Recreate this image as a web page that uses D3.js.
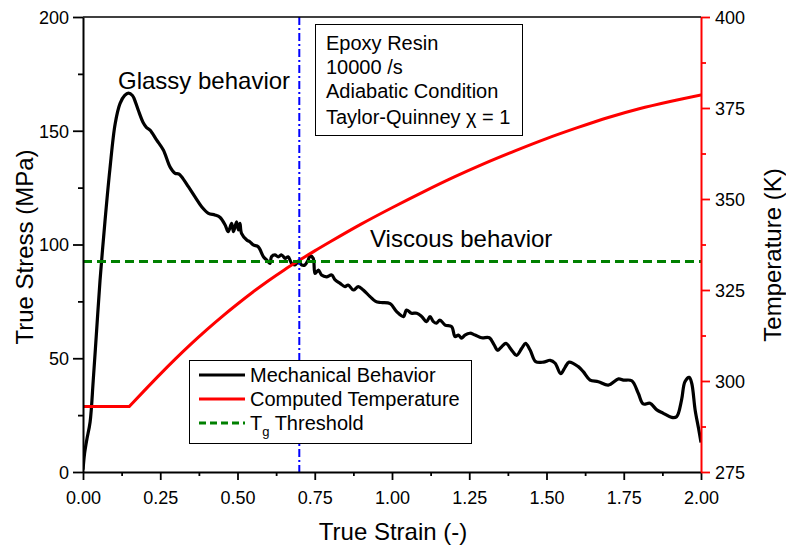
<!DOCTYPE html>
<html>
<head>
<meta charset="utf-8">
<script src="https://cdn.jsdelivr.net/npm/d3@7"></script>
<style>
  html, body { margin: 0; padding: 0; background: #fff; }
  svg { display: block; font-family: "Liberation Sans", Arial, sans-serif; }
</style>
</head>
<body>
<svg id="chart" width="786" height="549"></svg>
<script>
// ---- data ----
const mechStrain = [0.000,0.005,0.012,0.023,0.033,0.044,0.055,0.071,0.087,0.104,0.120,0.135,0.147,0.160,0.170,0.179,0.195,0.205,0.217,0.238,0.260,0.282,0.298,0.310,0.319,0.341,0.362,0.384,0.406,0.427,0.443,0.460,0.470,0.481,0.487,0.497,0.503,0.508,0.513,0.530,0.540,0.551,0.567,0.584,0.594,0.605,0.610,0.621,0.632,0.643,0.654,0.664,0.675,0.686,0.697,0.708,0.718,0.728,0.735,0.745,0.751,0.762,0.772,0.788,0.805,0.816,0.832,0.848,0.858,0.875,0.891,0.907,0.929,0.947,0.965,0.994,1.015,1.037,1.047,1.063,1.080,1.095,1.112,1.123,1.134,1.144,1.155,1.172,1.193,1.204,1.215,1.225,1.236,1.252,1.269,1.290,1.315,1.330,1.342,1.355,1.369,1.387,1.403,1.420,1.432,1.447,1.465,1.490,1.512,1.528,1.546,1.560,1.573,1.603,1.619,1.641,1.668,1.700,1.733,1.749,1.776,1.797,1.813,1.835,1.857,1.878,1.905,1.921,1.937,1.948,1.962,1.970,1.981,1.992,2.000];
const mechStress = [1,8,14,22,40,62,84,110,133,153,162,165.5,166.5,165.5,162.5,159,153.5,151.5,150.3,146,141.5,134,131.3,131,129.8,125.4,121,116.6,113.7,113,112,108.6,105.6,109.3,105.6,110,106.4,109.3,104.9,102,101.2,99.8,99,94.6,93.2,91.7,94.6,95.4,94.6,95.4,93.9,94.6,91.7,91,92.4,91,91,93,95,93.9,87.3,88.8,86.6,85.8,86.6,84.4,82.9,81.5,82.2,80,81.5,80,77.1,75,74.5,74,70.5,68.3,71.2,69.8,69.8,68.5,66.1,68.3,66.1,65.4,66.8,64.6,63.9,59.5,60.2,58.8,60.2,61,60.2,59,59,56,53.5,55.1,56.5,53.6,51.3,54.4,56.5,53.6,48.5,48.3,49.1,47.8,43.2,46,48.3,46.3,44.1,40.4,39.7,38.2,40.9,40.4,40.1,34.6,29.9,30.2,27.3,25.8,24,24.3,31.6,39.7,41.6,39,27.3,19.2,13];

const tempStrain = [0,0.15,0.2,0.25,0.3,0.35,0.4,0.45,0.5,0.55,0.6,0.65,0.7,0.75,0.8,0.9,1.0,1.1,1.2,1.3,1.4,1.5,1.6,1.7,1.8,1.9,2.0];
const tempK      = [293,293,297.5,301.9,306.15,310.2,314.05,317.7,321.15,324.45,327.55,330.45,333.15,335.75,338.25,343.1,347.6,351.9,356.0,359.8,363.3,366.6,369.6,372.4,374.8,376.8,378.6];

const tgStress = 92.5;      // Tg threshold (left axis units)
const tgStrain = 0.70;      // transition strain

const xTicks = [0,0.25,0.5,0.75,1.0,1.25,1.5,1.75,2.0];
const yLeftTicks = [0,50,100,150,200];
const yRightTicks = [275,300,325,350,375,400];

const infoLines = ["Epoxy Resin","10000 /s","Adiabatic Condition","Taylor-Quinney \u03C7 = 1"];
const legendLabels = ["Mechanical Behavior","Computed Temperature","Threshold"];

// ---- layout ----
const svg = d3.select("#chart");
const L = 83, R = 701, T = 17, B = 472;
const x = d3.scaleLinear().domain([0,2]).range([L,R]);
const yL = d3.scaleLinear().domain([0,200]).range([B,T]);
const yR = d3.scaleLinear().domain([275,400]).range([B,T]);

svg.append("defs").append("clipPath").attr("id","clip")
  .append("rect").attr("x",L).attr("y",T).attr("width",R-L).attr("height",B-T);

const plot = svg.append("g").attr("clip-path","url(#clip)");

// black mechanical curve
const mech = mechStrain.map((s,i)=>[s,mechStress[i]]);
plot.append("path").datum(mech)
  .attr("fill","none").attr("stroke","#000").attr("stroke-width",3.2).attr("stroke-linejoin","round")
  .attr("d", d3.line().x(d=>x(d[0])).y(d=>yL(d[1])).curve(d3.curveCatmullRom.alpha(0.5)));

// red temperature curve: flat part + smooth rising part
const temp = tempStrain.map((s,i)=>[s,tempK[i]]);
const tempLine = d3.line().x(d=>x(d[0])).y(d=>yR(d[1]));
plot.append("path").datum(temp.slice(0,2))
  .attr("fill","none").attr("stroke","#ff0000").attr("stroke-width",3)
  .attr("d", tempLine.curve(d3.curveLinear));
plot.append("path").datum(temp.slice(1))
  .attr("fill","none").attr("stroke","#ff0000").attr("stroke-width",3).attr("stroke-linecap","round")
  .attr("d", tempLine.curve(d3.curveMonotoneX));

// blue dash-dot vertical
plot.append("line").attr("x1",x(tgStrain)).attr("x2",x(tgStrain)).attr("y1",T).attr("y2",B)
  .attr("stroke","#0000ff").attr("stroke-width",2).attr("stroke-dasharray","8,3,2,3");

// green dashed horizontal
plot.append("line").attr("x1",L).attr("x2",R).attr("y1",yL(tgStress)).attr("y2",yL(tgStress))
  .attr("stroke","#008000").attr("stroke-width",3).attr("stroke-dasharray","9,5");

// ---- axes ----
function styleAxis(g, color){
  g.select(".domain").attr("stroke",color).attr("stroke-width",2);
  g.selectAll(".tick line").attr("stroke",color).attr("stroke-width",1.8);
  g.selectAll(".tick text").attr("fill","#000").style("font-size","18px")
    .style("font-family","'Liberation Sans', Arial, sans-serif");
}
// minor ticks
const xMinor = d3.range(0.125,2,0.25);
svg.append("g").attr("transform",`translate(0,${B})`)
  .call(d3.axisBottom(x).tickValues(xMinor).tickSize(4).tickFormat(""))
  .call(g=>{g.select(".domain").remove(); g.selectAll("line").attr("stroke","#000").attr("stroke-width",1.8);});
svg.append("g").attr("transform",`translate(${L},0)`)
  .call(d3.axisLeft(yL).tickValues(d3.range(25,200,50)).tickSize(5).tickFormat(""))
  .call(g=>{g.select(".domain").remove(); g.selectAll("line").attr("stroke","#000").attr("stroke-width",1.8);});
svg.append("g").attr("transform",`translate(${R},0)`)
  .call(d3.axisRight(yR).tickValues(d3.range(287.5,400,25)).tickSize(5).tickFormat(""))
  .call(g=>{g.select(".domain").remove(); g.selectAll("line").attr("stroke","#ff0000").attr("stroke-width",1.8);});

const gx = svg.append("g").attr("transform",`translate(0,${B})`)
  .call(d3.axisBottom(x).tickValues(xTicks).tickSize(8).tickSizeOuter(0).tickPadding(6).tickFormat(d3.format(".2f")));
styleAxis(gx,"#000");
gx.selectAll(".tick text").attr("dy","0").attr("y",32);

const gyl = svg.append("g").attr("transform",`translate(${L},0)`)
  .call(d3.axisLeft(yL).tickValues(yLeftTicks).tickSize(10).tickSizeOuter(0).tickPadding(4));
styleAxis(gyl,"#000");
gyl.selectAll(".tick text").attr("dy","0.36em");

const gyr = svg.append("g").attr("transform",`translate(${R},0)`)
  .call(d3.axisRight(yR).tickValues(yRightTicks).tickSize(9).tickSizeOuter(0).tickPadding(5));
styleAxis(gyr,"#ff0000");
gyr.selectAll(".tick text").attr("dy","0.36em");

// top border
svg.append("line").attr("x1",L).attr("x2",R).attr("y1",T).attr("y2",T)
  .attr("stroke","#000").attr("stroke-width",1.5);

// ---- titles ----
svg.append("text").attr("x",393).attr("y",540).attr("text-anchor","middle")
  .style("font-size","24px").text("True Strain (-)");
svg.append("text").attr("transform","translate(33,247) rotate(-90)").attr("text-anchor","middle")
  .style("font-size","24px").text("True Stress (MPa)");
svg.append("text").attr("transform","translate(781,255) rotate(-90)").attr("text-anchor","middle")
  .style("font-size","24px").text("Temperature (K)");

// annotations
svg.append("text").attr("x",118).attr("y",89).style("font-size","24px").text("Glassy behavior");
svg.append("text").attr("x",370).attr("y",247).style("font-size","24px").text("Viscous behavior");

// info box
svg.append("rect").attr("x",315.5).attr("y",24.5).attr("width",207).attr("height",111)
  .attr("fill","#fff").attr("stroke","#000").attr("stroke-width",1);
const infoY = [50,74,98,124];
infoLines.forEach((t,i)=>{
  svg.append("text").attr("x",326).attr("y",infoY[i]).style("font-size","20px").text(t);
});

// legend
const lg = svg.append("g");
lg.append("rect").attr("x",189.5).attr("y",360.5).attr("width",282).attr("height",83)
  .attr("fill","#fff").attr("stroke","#000").attr("stroke-width",1);
const legColors = ["#000","#ff0000","#008000"];
const legDash = [null,null,"7,4"];
const legY = [382,406,430];
legendLabels.forEach((t,i)=>{
  const ln = lg.append("line").attr("x1",199).attr("x2",245).attr("y1",legY[i]-7).attr("y2",legY[i]-7)
    .attr("stroke",legColors[i]).attr("stroke-width",3);
  if(legDash[i]) ln.attr("stroke-dasharray",legDash[i]);
  const tx = lg.append("text").attr("x",250).attr("y",legY[i]).style("font-size","20px");
  if(i===2){
    tx.append("tspan").text("T");
    tx.append("tspan").attr("dy",6).style("font-size","13px").text("g");
    tx.append("tspan").attr("dy",-6).text(" " + t);
  } else {
    tx.text(t);
  }
});
</script>
</body>
</html>
